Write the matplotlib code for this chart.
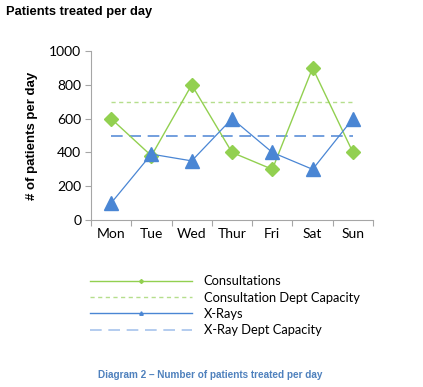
import matplotlib
matplotlib.use("Agg")
import matplotlib.pyplot as plt
from matplotlib.lines import Line2D

days = ["Mon", "Tue", "Wed", "Thur", "Fri", "Sat", "Sun"]
consultations = [600, 380, 800, 400, 300, 900, 400]
xrays = [100, 390, 350, 600, 400, 300, 600]
consult_capacity = [700] * 7
xray_capacity = [500] * 7
yticks = [0, 200, 400, 600, 800, 1000]

green = "#92D050"
green_light = "#B5DE8C"
blue = "#4A86D4"
blue_dash = "#5B8FD8"
blue_light = "#A7C4EC"
axis_gray = "#A6A6A6"

fig = plt.figure(figsize=(4.23, 3.87), dpi=100)
ax = fig.add_axes([0.215, 0.4315, 0.667, 0.4365])

x = list(range(len(days)))
ax.plot(x, consult_capacity, color=green_light, lw=1.0, dashes=(3, 2.5))
ax.plot(x, xray_capacity, color=blue_dash, lw=1.2, dashes=(7, 4))
ax.plot(x, consultations, color=green, lw=1.0, marker="D", ms=7.5,
        mfc=green, mec=green)
ax.plot(x, xrays, color=blue, lw=0.9, marker="^", ms=9.5,
        mfc=blue, mec=blue)

ax.set_xlim(-0.5, len(days) - 0.5)
ax.set_ylim(0, 1000)
ax.set_yticks(yticks)
ax.set_yticklabels([str(v) for v in yticks])
ax.set_xticks(x)
ax.set_xticklabels(days)
ax.set_xticks([i - 0.5 for i in range(len(days) + 1)], minor=True)
ax.tick_params(axis="x", which="major", length=0, pad=6)
ax.tick_params(axis="x", which="minor", length=4, color=axis_gray, width=0.8)
ax.tick_params(axis="y", length=4, color=axis_gray, width=0.8, pad=3)
for lab in ax.get_xticklabels() + ax.get_yticklabels():
    lab.set_fontfamily("Lato")
    lab.set_fontsize(10)
for s in ["top", "right"]:
    ax.spines[s].set_visible(False)
for s in ["left", "bottom"]:
    ax.spines[s].set_color(axis_gray)
    ax.spines[s].set_linewidth(0.8)

ax.set_ylabel("# of patients per day", fontfamily="Liberation Sans",
              fontweight="bold", fontsize=9.5, labelpad=8)

fig.text(0.014, 0.985, "Patients treated per day", fontfamily="Liberation Sans",
         fontweight="bold", fontsize=9.3, va="top", ha="left")

handles = [
    Line2D([], [], color=green, lw=1.0, marker="D", ms=2),
    Line2D([], [], color=green_light, lw=1.0, dashes=(3, 2.5)),
    Line2D([], [], color=blue, lw=1.0, marker="^", ms=2.5),
    Line2D([], [], color=blue_light, lw=1.2, dashes=(7, 4)),
]
labels = ["Consultations", "Consultation Dept Capacity", "X-Rays",
          "X-Ray Dept Capacity"]
leg = fig.legend(handles, labels, loc="upper left",
                 bbox_to_anchor=(0.2, 0.302), frameon=False,
                 handlelength=7.9, handletextpad=0.92, labelspacing=0.33,
                 borderaxespad=0, prop={"family": "Lato", "size": 9.3})

fig.text(0.232, 0.031, "Diagram 2 \u2013 Number of patients treated per day",
         fontfamily="Liberation Sans", fontweight="bold", fontsize=7.2,
         color="#4F81BD", va="center", ha="left")

fig.savefig("out.png", dpi=100)
